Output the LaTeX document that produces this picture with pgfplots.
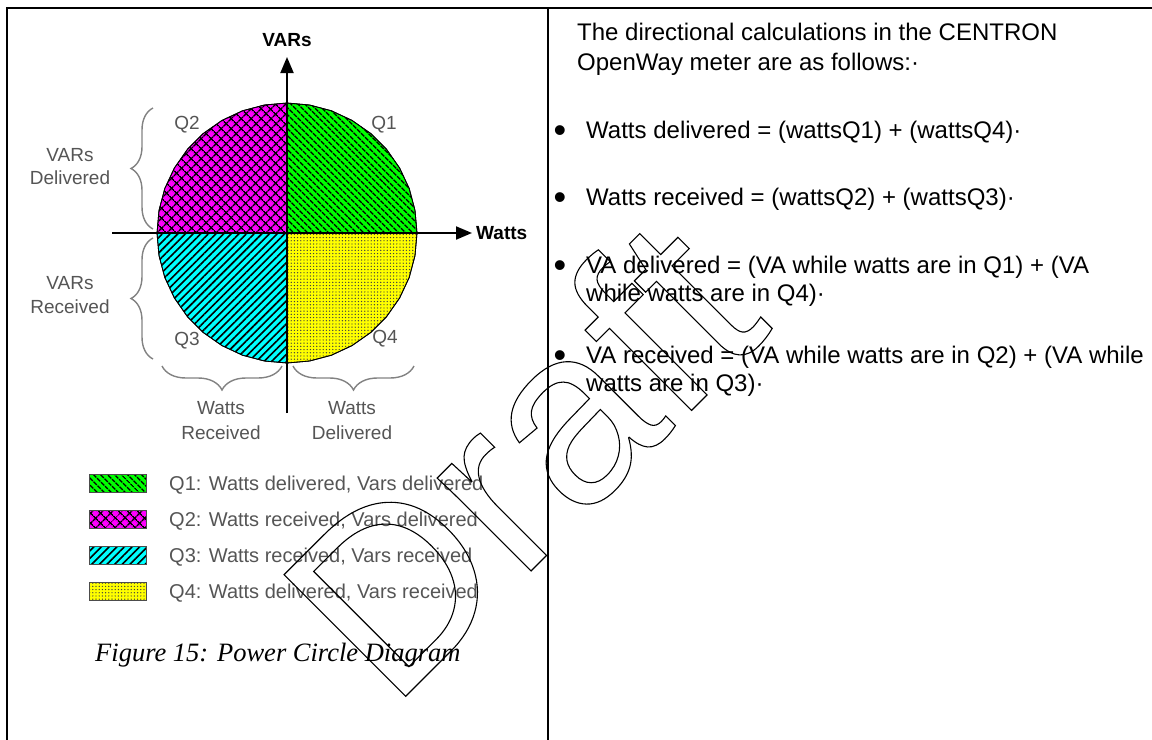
\documentclass[border=0pt]{standalone}
\usepackage{pgfplots}
\pgfplotsset{compat=1.18}
\usepackage{fontspec}
\setmainfont{Liberation Sans}
\newfontfamily\serifit{Liberation Serif}
\usetikzlibrary{patterns.meta, arrows.meta, decorations.pathreplacing}
\definecolor{qgreen}{RGB}{0,255,0}
\definecolor{qmag}{RGB}{255,0,255}
\definecolor{qcyan}{RGB}{0,255,255}
\definecolor{qyel}{RGB}{255,255,0}
\definecolor{lblgray}{RGB}{85,85,85}
\definecolor{brgray}{RGB}{130,130,130}
\newcommand\hollow[1]{\special{pdf:literal direct 1 Tr 1.1 w}#1\special{pdf:literal direct 0 Tr}}
\tikzset{
  pq1/.style={fill=qgreen, postaction={pattern={Lines[angle=-45,distance=5.2bp,line width=1.6bp]}, pattern color=black}},
  pq2/.style={fill=qmag, postaction={pattern={Hatch[angle=45,distance=6.8bp,line width=1.4bp]}, pattern color=black}},
  pq3/.style={fill=qcyan, postaction={pattern={Lines[angle=45,distance=5.4bp,line width=1.6bp]}, pattern color=black}},
  pq4/.style={fill=qyel, postaction={pattern={Dots[distance=3.2bp,radius=0.7bp]}, pattern color=black!75}},
}
\begin{document}
\begin{tikzpicture}
\begin{axis}[
  width=1152bp, height=740bp, scale only axis,
  xmin=0, xmax=1152, ymin=0, ymax=740, y dir=reverse,
  hide axis, clip=false, no markers,
]
% frame
\addplot[black, line width=2bp] coordinates {(7,740) (7,8) (1152,8)};
\addplot[black, line width=2bp] coordinates {(548,8) (548,740)};

% quadrants
\addplot[draw=black, line width=0.8bp, pq1] coordinates {
 (287,233) (417,233) (415.0,210.4) (409.2,188.5) (399.6,168.0) (386.6,149.4)
 (370.6,133.4) (352.0,120.4) (331.5,110.8) (309.6,105.0) (287,103) (287,233)};
\addplot[draw=black, line width=0.8bp, pq2] coordinates {
 (287,233) (287,103) (264.4,105.0) (242.5,110.8) (222.0,120.4) (203.4,133.4)
 (187.4,149.4) (174.4,168.0) (164.8,188.5) (159.0,210.4) (157,233) (287,233)};
\addplot[draw=black, line width=0.8bp, pq3] coordinates {
 (287,233) (157,233) (159.0,255.6) (164.8,277.5) (174.4,298.0) (187.4,316.6)
 (203.4,332.6) (222.0,345.6) (242.5,355.2) (264.4,361.0) (287,363) (287,233)};
\addplot[draw=black, line width=0.8bp, pq4] coordinates {
 (287,233) (287,363) (309.6,361.0) (331.5,355.2) (352.0,345.6) (370.6,332.6)
 (386.6,316.6) (399.6,298.0) (409.2,277.5) (415.0,255.6) (417,233) (287,233)};

% axes with arrows
\addplot[black, line width=2bp, -{Triangle[length=16bp,width=13bp]}] coordinates {(112,233) (472,233)};
\addplot[black, line width=2bp, -{Triangle[length=16bp,width=13bp]}] coordinates {(287,413) (287,57)};

% braces
\draw[brgray, line width=1.4bp, decorate, decoration={brace, amplitude=22bp}] (153,229) -- (153,108);
\draw[brgray, line width=1.4bp, decorate, decoration={brace, amplitude=22bp}] (153,359) -- (153,238);
\draw[brgray, line width=1.4bp, decorate, decoration={brace, amplitude=24bp}] (282,366) -- (162,366);
\draw[brgray, line width=1.4bp, decorate, decoration={brace, amplitude=24bp}] (414,366) -- (293,366);

% axis labels
\node[font=\fontsize{19bp}{23bp}\selectfont\bfseries] at (287,40) {VARs};
\node[font=\fontsize{19bp}{23bp}\selectfont\bfseries, anchor=west, inner sep=0pt] at (476,233) {Watts};

% quadrant labels
\begin{scope}[every node/.style={text=lblgray, font=\fontsize{19bp}{23bp}\selectfont, inner sep=0pt}]
\node at (187,125) {Q2};
\node at (384,125) {Q1};
\node at (187,341) {Q3};
\node at (385,339) {Q4};
\node at (70,155) {VARs};
\node at (70,178) {Delivered};
\node at (70,283) {VARs};
\node at (70,307) {Received};
\node at (221,408) {Watts};
\node at (221,433) {Received};
\node at (352,408) {Watts};
\node at (352,433) {Delivered};
\end{scope}

% legend swatches
\addplot[draw=black!70, line width=1bp, pq1] coordinates {(89,474) (146,474) (146,492) (89,492) (89,474)};
\addplot[draw=black!70, line width=1bp, pq2] coordinates {(89,510) (146,510) (146,528) (89,528) (89,510)};
\addplot[draw=black!70, line width=1bp, pq3] coordinates {(89,546) (146,546) (146,564) (89,564) (89,546)};
\addplot[draw=black!70, line width=1bp, pq4] coordinates {(89,582) (146,582) (146,600) (89,600) (89,582)};
\begin{scope}[every node/.style={text=lblgray, font=\fontsize{20bp}{24bp}\selectfont, inner sep=0pt, anchor=base west}]
\node at (169,490) {Q1: Watts delivered, Vars delivered};
\node at (169,526) {Q2: Watts received, Vars delivered};
\node at (169,562) {Q3: Watts received, Vars received};
\node at (169,598) {Q4: Watts delivered, Vars received};
\end{scope}

% caption
\node[anchor=base west, inner sep=0pt, font=\fontsize{26.5bp}{30bp}\selectfont\serifit\itshape] at (95,661) {Figure 15: Power Circle Diagram};

% right panel text
\begin{scope}[every node/.style={font=\fontsize{24bp}{28bp}\selectfont, inner sep=0pt, anchor=base west}]
\node at (577,40.5) {The directional calculations in the CENTRON};
\node at (577,70.5) {OpenWay meter are as follows:·};
\node at (586,138.5) {Watts delivered = (wattsQ1) + (wattsQ4)·};
\node at (586,205.5) {Watts received = (wattsQ2) + (wattsQ3)·};
\node at (586,273.5) {VA delivered = (VA while watts are in Q1) + (VA};
\node at (586,301.5) {while watts are in Q4)·};
\node at (586,363.5) {VA received = (VA while watts are in Q2) + (VA while};
\node at (586,391.5) {watts are in Q3)·};
\end{scope}
\begin{scope}[every node/.style={font=\fontsize{36bp}{36bp}\selectfont, inner sep=0pt, anchor=base}]
\node at (560,142) {•};
\node at (560,209) {•};
\node at (560,277) {•};
\node at (560,367) {•};
\end{scope}

% watermark (hollow letters)
\node[rotate=45, anchor=base west, inner sep=0pt, font=\fontsize{250bp}{250bp}\selectfont] at (391,711)
  {\hollow{Draft}};
\end{axis}
\pgfresetboundingbox
\path (0,0) rectangle (1152bp,740bp);
\end{tikzpicture}
\end{document}
